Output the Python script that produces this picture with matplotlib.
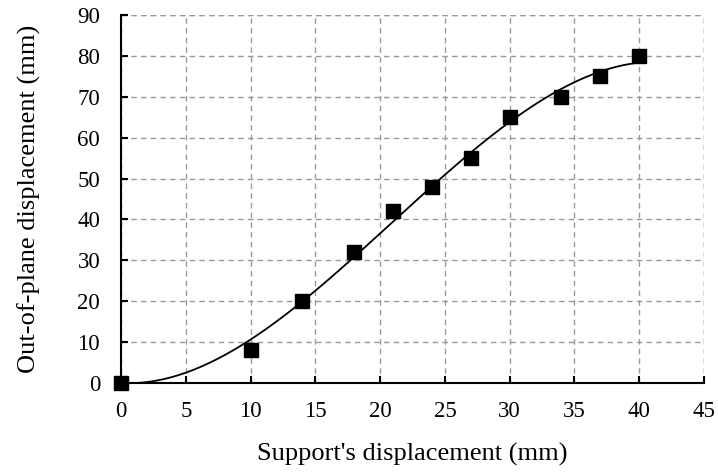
import numpy as np
import matplotlib.pyplot as plt

plt.rcParams['font.family'] = ['Liberation Serif', 'DejaVu Serif']

# measured points
support_disp = [0, 10, 14, 18, 21, 24, 27, 30, 34, 37, 40]
out_of_plane = [0, 8, 20, 32, 42, 48, 55, 65, 70, 75, 80]

x_ticks = list(range(0, 46, 5))
y_ticks = list(range(0, 91, 10))

# cubic trend line through the points, intercept set to zero
xa = np.array(support_disp, dtype=float)
A = np.column_stack([xa**3, xa**2, xa])
c3, c2, c1 = np.linalg.lstsq(A, np.array(out_of_plane, dtype=float), rcond=None)[0]
xs = np.linspace(0, 40, 200)
ys = c3 * xs**3 + c2 * xs**2 + c1 * xs

fig = plt.figure(figsize=(7.18, 4.72), dpi=100)
ax = fig.add_axes([0.1685, 0.1886, 0.812, 0.7796])

ax.plot(xs, ys, color='black', lw=1.3, zorder=3)
ax.plot(support_disp, out_of_plane, 's', color='black', ms=10, zorder=4, clip_on=False)

ax.set_xlim(0, 45)
ax.set_ylim(0, 90)
ax.set_xticks(x_ticks)
ax.set_yticks(y_ticks)
ax.grid(True, color='#9a9a9a', ls=(0, (4, 3)), lw=1)
ax.set_axisbelow(True)

# right and top edges are grid lines, not spines
ax.axhline(90, color='#9a9a9a', ls=(0, (4, 3)), lw=1, zorder=0)
ax.axvline(45, color='#9a9a9a', ls=(0, (4, 3)), lw=1, zorder=0)

for s in ['top', 'right']:
    ax.spines[s].set_visible(False)
for s in ['left', 'bottom']:
    ax.spines[s].set_linewidth(1.5)

ax.tick_params(direction='in', length=5, width=1.5, labelsize=16.5)
ax.tick_params(axis='x', pad=13)
ax.tick_params(axis='y', pad=15)
ax.set_xlabel("Support's displacement (mm)", fontsize=19, labelpad=15)
ax.set_ylabel('Out-of-plane displacement (mm)', fontsize=19, labelpad=26)

fig.savefig('out.png', dpi=100)
